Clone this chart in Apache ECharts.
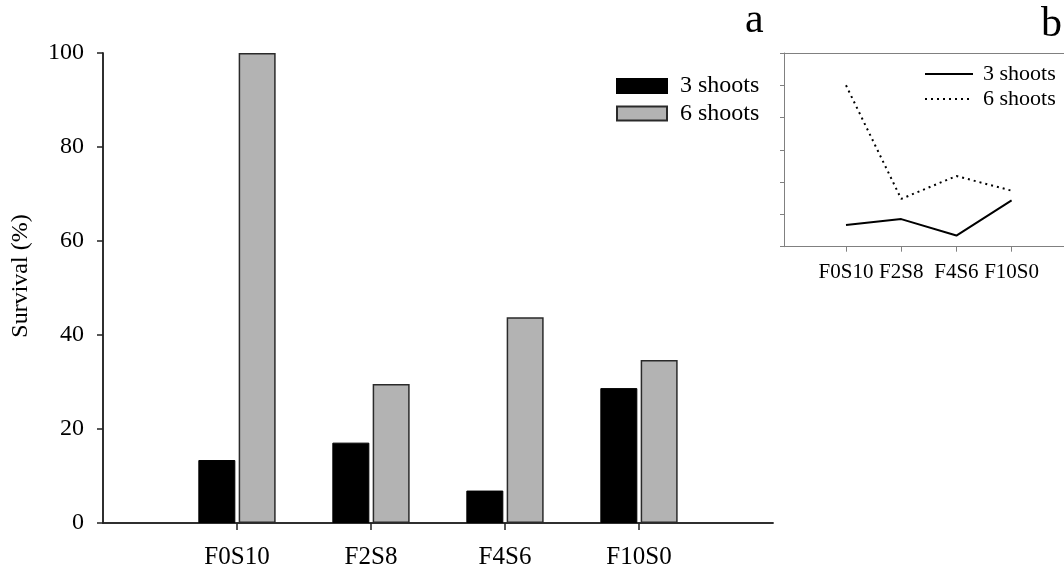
<!DOCTYPE html>
<html>
<head>
<meta charset="utf-8">
<script src="https://cdn.jsdelivr.net/npm/echarts@6/dist/echarts.min.js"></script>
<style>
  html, body { margin: 0; padding: 0; background: #fff; }
  #chart { width: 1064px; height: 574px; }
</style>
</head>
<body>
<div id="chart"></div>
<script>
// Shoot-treatment combinations
const categories = ['F0S10', 'F2S8', 'F4S6', 'F10S0'];
// Survival (%) per treatment
const shoots3 = [13.4, 17.1, 6.9, 28.7];
const shoots6 = [100, 29.6, 43.8, 34.7];
const seriesNames = ['3 shoots', '6 shoots'];
const mainTicks = [0, 20, 40, 60, 80, 100];

const FONT = 'Liberation Serif';
const AXIS = '#222';
const INSET_AXIS = '#808080';

const hidden = { show: false };
const lineOnly = (color, w) => ({
  axisLine: { show: true, lineStyle: { color: color, width: w } },
  axisTick: hidden, axisLabel: hidden, splitLine: hidden
});

const chart = echarts.init(document.getElementById('chart'), null, { renderer: 'canvas' });

chart.setOption({
  animation: false,
  backgroundColor: '#fff',
  textStyle: { fontFamily: FONT, color: '#000' },
  title: [
    { text: 'a', left: 745, top: 0, padding: 0,
      textStyle: { fontFamily: FONT, fontSize: 42, fontWeight: 'normal', color: '#000' } },
    { text: 'b', left: 1041, top: 4, padding: 0,
      textStyle: { fontFamily: FONT, fontSize: 42, fontWeight: 'normal', color: '#000' } }
  ],
  legend: [
    {
      data: seriesNames,
      icon: 'rect',
      orient: 'vertical', left: 616, top: 74, padding: 0,
      itemWidth: 50, itemHeight: 14, itemGap: 3.5,
      textStyle: { fontFamily: FONT, fontSize: 24, color: '#000', lineHeight: 24, padding: [0, 0, 0, 8] }
    },
    {
      data: seriesNames.map(n => 'b: ' + n),
      formatter: n => n.slice(3),
      orient: 'vertical', left: 924, top: 63, padding: 0,
      itemWidth: 48, itemHeight: 14, itemGap: 3,
      itemStyle: { opacity: 0 },
      textStyle: { fontFamily: FONT, fontSize: 22, color: '#000', lineHeight: 22, padding: [0, 0, 0, 5] }
    }
  ],
  grid: [
    // main frame
    { left: 103, top: 53, width: 670, height: 470 },
    // main bars
    { left: 170, top: 53, width: 536, height: 470 },
    // inset frame (runs past the right edge)
    { left: 784, top: 53, width: 320, height: 193.7 },
    // inset lines
    { left: 818.4, top: 53, width: 220.8, height: 193.7 }
  ],
  xAxis: [
    Object.assign({ type: 'value', gridIndex: 0, position: 'bottom', min: 0, max: 1 }, lineOnly(AXIS, 1.5)),
    Object.assign({ type: 'value', gridIndex: 0, position: 'top', min: 0, max: 1 }, lineOnly(AXIS, 1.5)),
    {
      type: 'category', gridIndex: 1, data: categories, boundaryGap: true,
      axisLine: hidden,
      axisTick: { show: true, alignWithLabel: true, length: 7, lineStyle: { color: AXIS, width: 1.5 } },
      axisLabel: { fontFamily: FONT, fontSize: 25, color: '#000', margin: 22, interval: 0 },
      splitLine: hidden
    },
    Object.assign({ type: 'value', gridIndex: 2, position: 'bottom', min: 0, max: 1 }, lineOnly(INSET_AXIS, 1)),
    Object.assign({ type: 'value', gridIndex: 2, position: 'top', min: 0, max: 1 }, lineOnly(INSET_AXIS, 1)),
    {
      type: 'category', gridIndex: 3, data: categories, boundaryGap: true,
      axisLine: hidden,
      axisTick: { show: true, alignWithLabel: true, length: 5, lineStyle: { color: INSET_AXIS, width: 1 } },
      axisLabel: { fontFamily: FONT, fontSize: 21, color: '#000', margin: 15, interval: 0 },
      splitLine: hidden
    }
  ],
  yAxis: [
    {
      type: 'value', gridIndex: 0, position: 'left', offset: 7,
      min: mainTicks[0], max: mainTicks[mainTicks.length - 1], interval: 20,
      name: 'Survival (%)', nameLocation: 'middle', nameGap: 63,
      nameTextStyle: { fontFamily: FONT, fontSize: 24, color: '#000', padding: [0, 0, 0, 24] },
      axisLine: { show: true, lineStyle: { color: AXIS, width: 1.5 } },
      axisTick: { show: true, length: 6, lineStyle: { color: AXIS, width: 1.5 } },
      axisLabel: { fontFamily: FONT, fontSize: 24, color: '#000', margin: 12 },
      splitLine: hidden
    },
    Object.assign({ type: 'value', gridIndex: 0, position: 'right', min: 0, max: 100 }, lineOnly(AXIS, 1.5)),
    { type: 'value', gridIndex: 1, min: 0, max: 100, axisLine: hidden, axisTick: hidden, axisLabel: hidden, splitLine: hidden },
    {
      type: 'value', gridIndex: 2, position: 'left', min: 0, max: 120, interval: 20,
      axisLine: { show: true, lineStyle: { color: INSET_AXIS, width: 1 } },
      axisTick: { show: true, length: 4, lineStyle: { color: INSET_AXIS, width: 1 } },
      axisLabel: hidden, splitLine: hidden
    },
    { type: 'value', gridIndex: 3, min: 0, max: 120, axisLine: hidden, axisTick: hidden, axisLabel: hidden, splitLine: hidden }
  ],
  series: [
    {
      name: seriesNames[0], type: 'bar', xAxisIndex: 2, yAxisIndex: 2,
      data: shoots3, barWidth: 37, barGap: '9%',
      itemStyle: { color: '#000', borderColor: '#000', borderWidth: 1 }
    },
    {
      name: seriesNames[1], type: 'bar', xAxisIndex: 2, yAxisIndex: 2,
      data: shoots6, barWidth: 37, barGap: '9%',
      itemStyle: { color: '#b3b3b3', borderColor: '#2a2a2a', borderWidth: 1.5 }
    },
    {
      name: 'b: ' + seriesNames[0], type: 'line', xAxisIndex: 5, yAxisIndex: 4,
      data: shoots3, symbol: 'none',
      lineStyle: { color: '#000', width: 2, type: 'solid' },
      itemStyle: { color: '#000' }
    },
    {
      name: 'b: ' + seriesNames[1], type: 'line', xAxisIndex: 5, yAxisIndex: 4,
      data: shoots6, symbol: 'none',
      lineStyle: { color: '#000', width: 2, type: [2, 4] },
      itemStyle: { color: '#000' }
    }
  ]
});
</script>
</body>
</html>
